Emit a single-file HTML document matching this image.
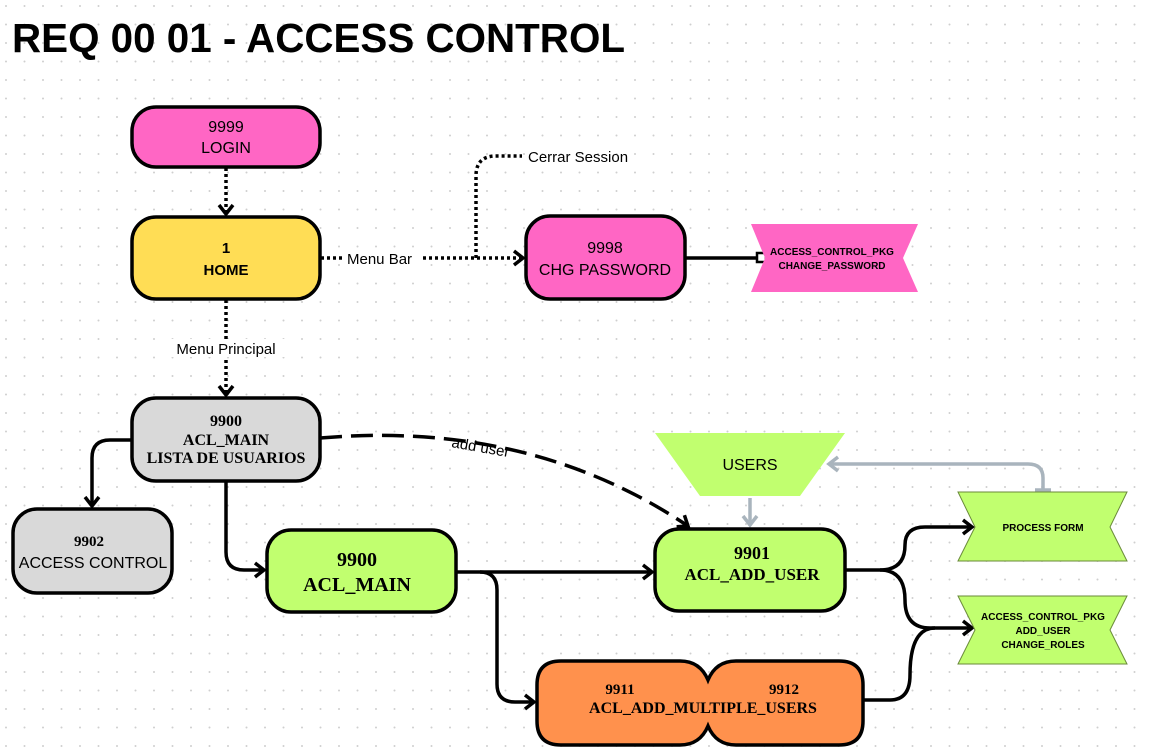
<!DOCTYPE html>
<html><head><meta charset="utf-8"><style>
html,body{margin:0;padding:0;background:#fff;}
svg{display:block;}
.s{font-family:"Liberation Sans",sans-serif;}
.r{font-family:"Liberation Serif",serif;font-weight:bold;}
</style></head><body>
<svg width="1150" height="753" viewBox="0 0 1150 753" xmlns="http://www.w3.org/2000/svg">
<defs>
<pattern id="dots" width="18.5" height="18.5" patternUnits="userSpaceOnUse" x="5" y="5">
<circle cx="1" cy="1" r="1" fill="#cfcfcf"/></pattern>
<marker id="a" markerWidth="16" markerHeight="18" refX="12" refY="9" orient="auto" markerUnits="userSpaceOnUse">
<path d="M3,2 L12,9 L3,16" fill="none" stroke="#000" stroke-width="3.5"/></marker>
<marker id="g" markerWidth="16" markerHeight="18" refX="12" refY="9" orient="auto" markerUnits="userSpaceOnUse">
<path d="M3,2 L12,9 L3,16" fill="none" stroke="#a9b4bd" stroke-width="3.5"/></marker>
</defs>
<rect width="1150" height="753" fill="url(#dots)"/>
<text x="12" y="52" class="s" font-weight="bold" font-size="41" textLength="613" lengthAdjust="spacingAndGlyphs">REQ 00 01 - ACCESS CONTROL</text>

<g fill="none" stroke="#000" stroke-width="3.5">
<path d="M226,168 V214" stroke-dasharray="3,3" marker-end="url(#a)"/>
<path d="M226,300 V395" stroke-dasharray="3,3" marker-end="url(#a)"/>
<path d="M321,258 H523" stroke-dasharray="3,3" marker-end="url(#a)"/>
<path d="M476,258 V176 Q476,156 496,156 H522" stroke-dasharray="3,3"/>
<path d="M132,440 H110 Q92,440 92,458 V506" marker-end="url(#a)"/>
<path d="M226,482 V552 Q226,570 244,570 H264" marker-end="url(#a)"/>
<path d="M457,572 H652" marker-end="url(#a)"/>
<path d="M480,572 Q497,572 497,590 V684 Q497,702 515,702 H534" marker-end="url(#a)"/>
<path d="M846,570 H880 Q905,570 905,545 Q905,527 925,527 H972" marker-end="url(#a)"/>
<path d="M880,570 Q905,570 905,600 Q905,628 930,628 H972" marker-end="url(#a)"/>
<path d="M864,700 H890 Q910,700 910,675 Q910,628 935,628"/>
<path d="M686,258 H756"/>
<path d="M320,438 Q530,420 688,526" stroke-dasharray="22,9" marker-end="url(#a)"/>
</g>
<rect x="757" y="253" width="9" height="9" fill="#fff" stroke="#000" stroke-width="2.5"/>
<g fill="none" stroke="#a9b4bd" stroke-width="3.5">
<path d="M750,498 V525" marker-end="url(#g)"/>
<path d="M1043,490 V478 Q1043,464 1028,464 H829" marker-end="url(#g)"/>
<path d="M1035,490 H1051"/>
</g>
<rect x="342" y="249" width="80" height="18" fill="#fff"/>
<text x="347" y="264" class="s" font-size="15">Menu Bar</text>
<text x="528" y="162" class="s" font-size="15">Cerrar Session</text>
<rect x="167" y="339" width="118" height="18" fill="#fff"/>
<text x="226" y="354" class="s" font-size="15" text-anchor="middle">Menu Principal</text>
<text x="451" y="447" class="s" font-size="15" transform="rotate(10 451 447)">add user</text>

<g stroke="#000" stroke-width="3.5">
<rect x="132" y="107" width="188" height="60" rx="24" fill="#ff66c4"/>
<rect x="132" y="217" width="188" height="82" rx="24" fill="#ffdd55"/>
<rect x="526" y="216" width="159" height="83" rx="24" fill="#ff66c4"/>
<rect x="132" y="398" width="188" height="83" rx="24" fill="#d9d9d9"/>
<rect x="13" y="509" width="159" height="84" rx="24" fill="#d9d9d9"/>
<rect x="267" y="530" width="189" height="82" rx="24" fill="#c1ff6f"/>
<rect x="655" y="529" width="190" height="82" rx="24" fill="#c1ff6f"/>
<path d="M561,661 H680 Q700,661 708,680 Q716,661 736,661 H839 Q863,661 863,685 V721 Q863,745 839,745 H736 Q716,745 708,726 Q700,745 680,745 H561 Q537,745 537,721 V685 Q537,661 561,661 Z" fill="#ff914d"/>
</g>
<polygon points="751,224 918,224 903,258 918,292 751,292 765,258" fill="#ff66c4"/>
<polygon points="958,492 1127,492 1110,527 1127,561 958,561 975,527" fill="#c1ff6f" stroke="#6a8a3a" stroke-width="1"/>
<polygon points="958,596 1127,596 1110,630 1127,664 958,664 975,630" fill="#c1ff6f" stroke="#6a8a3a" stroke-width="1"/>
<polygon points="655,433 845,433 800,496 700,496" fill="#c1ff6f"/>

<g text-anchor="middle">
<text x="226" y="132" class="s" font-size="16">9999</text>
<text x="226" y="153" class="s" font-size="16">LOGIN</text>
<text x="226" y="253" class="s" font-size="15" font-weight="bold">1</text>
<text x="226" y="275" class="s" font-size="15" font-weight="bold">HOME</text>
<text x="605" y="253" class="s" font-size="16">9998</text>
<text x="605" y="275" class="s" font-size="16">CHG PASSWORD</text>
<text x="832" y="255" class="s" font-size="10" font-weight="bold">ACCESS_CONTROL_PKG</text>
<text x="832" y="269" class="s" font-size="10" font-weight="bold">CHANGE_PASSWORD</text>
<text x="226" y="426" class="r" font-size="16">9900</text>
<text x="226" y="445" class="r" font-size="16">ACL_MAIN</text>
<text x="226" y="463" class="r" font-size="16">LISTA DE USUARIOS</text>
<text x="89" y="546" class="r" font-size="15">9902</text>
<text x="93" y="568" class="s" font-size="16">ACCESS CONTROL</text>
<text x="357" y="566" class="r" font-size="20">9900</text>
<text x="357" y="591" class="r" font-size="20">ACL_MAIN</text>
<text x="752" y="559" class="r" font-size="18">9901</text>
<text x="752" y="580" class="r" font-size="17">ACL_ADD_USER</text>
<text x="750" y="470" class="s" font-size="16">USERS</text>
<text x="1043" y="531" class="s" font-size="10" font-weight="bold">PROCESS FORM</text>
<text x="1043" y="620" class="s" font-size="10" font-weight="bold">ACCESS_CONTROL_PKG</text>
<text x="1043" y="634" class="s" font-size="10" font-weight="bold">ADD_USER</text>
<text x="1043" y="648" class="s" font-size="10" font-weight="bold">CHANGE_ROLES</text>
<text x="620" y="694" class="r" font-size="15">9911</text>
<text x="784" y="694" class="r" font-size="15">9912</text>
<text x="703" y="713" class="r" font-size="16">ACL_ADD_MULTIPLE_USERS</text>
</g>
</svg>
</body></html>
